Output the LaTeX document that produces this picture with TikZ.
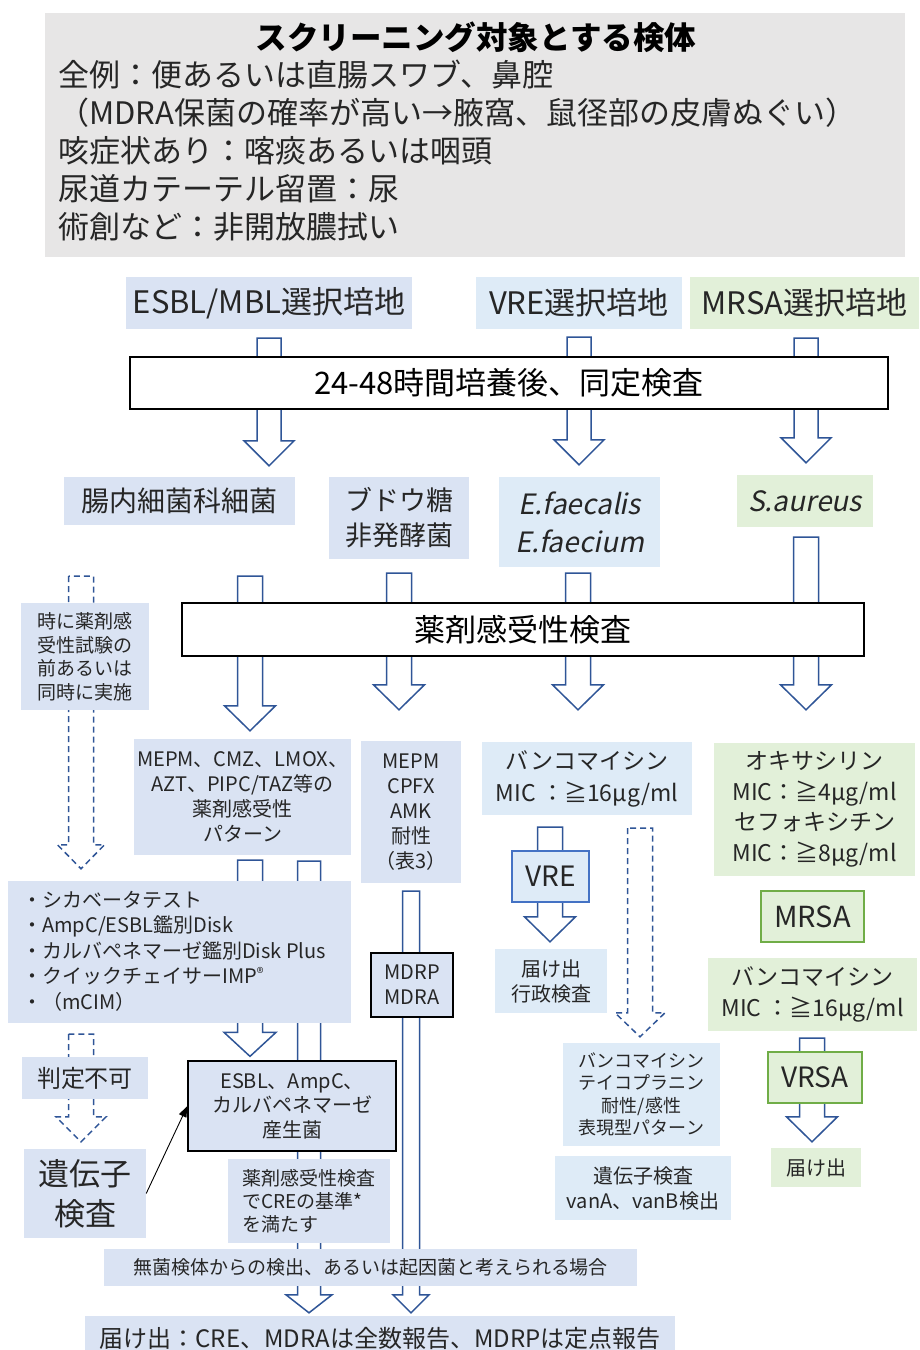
\documentclass[tikz,border=0pt]{standalone}
\usepackage{fontspec}
\setmainfont{Noto Sans CJK JP}[AutoFakeSlant=0.2]
\usepackage{tikz}
\usetikzlibrary{arrows.meta,calc,backgrounds}
\definecolor{scrgrey}{RGB}{231,230,230}
\definecolor{scrlav}{RGB}{218,227,243}
\definecolor{scrblue}{RGB}{222,235,247}
\definecolor{scrgreen}{RGB}{226,240,217}
\definecolor{scrarrow}{RGB}{47,85,151}
\definecolor{scrvre}{RGB}{68,114,196}
\definecolor{scrgreenline}{RGB}{112,173,71}

\newcommand{\scrfont}[2]{\fontsize{#1}{#2}\selectfont}

\tikzset{
  shaftw/.store in=\blkshaft, headw/.store in=\blkhead, headl/.store in=\blklen,
  shaftw=12.5pt, headw=25.5pt, headl=25pt,
}
% block arrow: x and top from #2, tip from #3
\newcommand{\blkarrow}[3][]{%
  \draw[blkarr,#1] let \p1=(#2), \p2=(#3) in
    (\x1-\blkshaft,\y1) -- (\x1-\blkshaft,\y2+\blklen) -- (\x1-\blkhead,\y2+\blklen)
    -- (\x1,\y2) -- (\x1+\blkhead,\y2+\blklen) -- (\x1+\blkshaft,\y2+\blklen)
    -- (\x1+\blkshaft,\y1) -- cycle;}

\begin{document}
\begin{tikzpicture}[x=1pt, y=-1pt,
    box/.style={rectangle, inner sep=0pt, align=center, text=black!85},
    greybox/.style={box, fill=scrgrey},
    lavbox/.style={box, fill=scrlav},
    bluebox/.style={box, fill=scrblue},
    greenbox/.style={box, fill=scrgreen},
    stepbox/.style={box, fill=white, draw=black, line width=1.8pt, text=black},
    keybox/.style={box, fill=scrlav, draw=black, line width=1.3pt},
    blkarr/.style={draw=scrarrow, fill=white, line width=1.5pt, line join=miter},
    dasharr/.style={fill=none, dash pattern=on 6pt off 4pt},
  ]
  \useasboundingbox (0,0) rectangle (919,1350);

  % Specimens
  \node[greybox, minimum width=860, minimum height=244] (spec) at (475,135) {};
  \node[box, font=\scrfont{31.5}{38}\bfseries, text=black] (spectitle) at (476,37)
    {スクリーニング対象とする検体};
  \node[box, anchor=west, align=left, font=\scrfont{31}{38}] (speclist) at (58,151)
    {全例：便あるいは直腸スワブ、鼻腔\\（MDRA保菌の確率が高い→腋窩、鼠径部の皮膚ぬぐい）\\
     咳症状あり：喀痰あるいは咽頭\\尿道カテーテル留置：尿\\術創など：非開放膿拭い};

  % Selective media
  \node[lavbox, minimum width=286, minimum height=52, font=\scrfont{31}{38}] (esblmed) at (269,303) {ESBL/MBL選択培地};
  \node[bluebox, minimum width=206, minimum height=52, font=\scrfont{31}{38}] (vremed) at (579,303) {VRE選択培地};
  \node[greenbox, minimum width=229, minimum height=52, font=\scrfont{31}{38}] (mrsamed) at (804.5,303) {MRSA選択培地};
  \node[stepbox, minimum width=758, minimum height=52, font=\scrfont{31}{38}] (culture) at (509,383) {24-48時間培養後、同定検査};

  % Identification
  \node[lavbox, minimum width=231, minimum height=48, font=\scrfont{28}{35}] (entero) at (179.5,501) {腸内細菌科細菌};
  \node[lavbox, minimum width=140, minimum height=82, font=\scrfont{27}{35}] (nonferm) at (399,518) {ブドウ糖\\非発酵菌};
  \node[bluebox, minimum width=161, minimum height=90, font=\scrfont{28}{38}\itshape] (efae) at (579.5,522) {E.faecalis\\E.faecium};
  \node[greenbox, minimum width=136, minimum height=52, font=\scrfont{28}{35}\itshape] (saur) at (805,501) {S.aureus};
  \node[stepbox, minimum width=682, minimum height=53, font=\scrfont{31}{38}] (ast) at (523,629.5) {薬剤感受性検査};
  \node[lavbox, minimum width=128, minimum height=107, font=\scrfont{19}{23.5}] (timing) at (85,656.5)
    {時に薬剤感\\受性試験の\\前あるいは\\同時に実施};

  % Susceptibility results
  \node[lavbox, minimum width=217, minimum height=116, font=\scrfont{20}{25}] (pattern) at (242.5,797)
    {MEPM、CMZ、LMOX、\\AZT、PIPC/TAZ等の\\薬剤感受性\\パターン};
  \node[lavbox, minimum width=100, minimum height=142, font=\scrfont{20}{25}] (mepm) at (411,812)
    {MEPM\\CPFX\\AMK\\耐性\\（表3）};
  \node[bluebox, minimum width=210, minimum height=73, font=\scrfont{23}{32}] (vanvre) at (587,778.5)
    {バンコマイシン\\MIC ：≧16µg/ml};
  \node[greenbox, minimum width=201, minimum height=133, font=\scrfont{23}{30.5}] (oxa) at (814.5,809.5)
    {オキサシリン\\MIC：≧4µg/ml\\セフォキシチン\\MIC：≧8µg/ml};

  % Confirmation
  \node[lavbox, minimum width=343, minimum height=142] (methods) at (179.5,952) {};
  \node[box, anchor=west, align=left, font=\scrfont{20}{25.5}] (methodlist) at (22,951)
    {・シカベータテスト\\・AmpC/ESBL鑑別Disk\\・カルバペネマーゼ鑑別Disk Plus\\
     ・クイックチェイサーIMP\raisebox{0.45ex}{\scrfont{14}{14}®}\\・（mCIM）};
  \node[keybox, minimum width=82, minimum height=64, font=\scrfont{20}{25}] (mdrp) at (412,985) {MDRP\\MDRA};
  \node[bluebox, draw=scrvre, line width=1.3pt, minimum width=77, minimum height=51, font=\scrfont{28}{30}] (vre) at (550.5,876.5) {VRE};
  \node[greenbox, draw=scrgreenline, line width=1.3pt, minimum width=103, minimum height=51, font=\scrfont{29}{30}] (mrsa) at (812.5,916.5) {MRSA};
  \node[bluebox, minimum width=112, minimum height=64, font=\scrfont{20}{25}] (notify1) at (551,981) {届け出\\行政検査};
  \node[greenbox, minimum width=209, minimum height=73, font=\scrfont{23}{31}] (vanmrsa) at (812.5,994.5)
    {バンコマイシン\\MIC ：≧16µg/ml};
  \node[keybox, minimum width=208, minimum height=90, font=\scrfont{20}{24.5}] (producer) at (292,1106)
    {ESBL、AmpC、\\カルバペネマーゼ\\産生菌};
  \node[lavbox, minimum width=126, minimum height=42, font=\scrfont{24}{30}] (undecided) at (85,1078) {判定不可};
  \node[bluebox, minimum width=157, minimum height=103, font=\scrfont{18}{22.5}] (phenotype) at (641.5,1094.5)
    {バンコマイシン\\テイコプラニン\\耐性/感性\\表現型パターン};
  \node[greenbox, draw=scrgreenline, line width=1.3pt, minimum width=94, minimum height=51, font=\scrfont{28}{30}] (vrsa) at (815,1077.5) {VRSA};
  \node[greenbox, minimum width=90, minimum height=39, font=\scrfont{20}{25}] (notify2) at (816,1167.5) {届け出};
  \node[lavbox, minimum width=122, minimum height=89, font=\scrfont{31}{40}] (gene) at (85,1193.5) {遺伝子\\検査};
  \node[bluebox, minimum width=176, minimum height=64, font=\scrfont{20}{25}] (genevan) at (643,1188)
    {遺伝子検査\\vanA、vanB検出};
  \node[lavbox, text width=134, inner xsep=14pt, minimum height=84, align=left, font=\scrfont{19}{23}] (crit) at (309,1201)
    {薬剤感受性検査\\でCREの基準*\\を満たす};
  \node[lavbox, minimum width=533, minimum height=37, font=\scrfont{19}{23}] (sterile) at (370.5,1267.5)
    {無菌検体からの検出、あるいは起因菌と考えられる場合};
  \node[lavbox, minimum width=590, minimum height=44, font=\scrfont{24}{28}] (report) at (380,1338)
    {届け出：CRE、MDRAは全数報告、MDRPは定点報告};

  \draw[-{Triangle[length=11pt,width=8pt]}, line width=0.9pt] (gene.east) -- (producer.west);

  % Block arrows behind the boxes
  \begin{scope}[on background layer]
    \blkarrow[shaftw=12pt, headw=25pt]{$(269,0 |- esblmed.south)+(0,9)$}{$(entero.north)+(0,-11)$}
    \blkarrow[shaftw=12pt, headw=25pt]{$(vremed.south)+(0,8)$}{$(efae.north)+(0,-12)$}
    \blkarrow[shaftw=12pt, headw=25pt]{$(806,0 |- mrsamed.south)+(0,9)$}{$(saur.north)+(0,-12)$}

    \blkarrow{$(250,0 |- entero.south)+(0,51)$}{$(pattern.north)+(0,-8)$}
    \blkarrow{$(nonferm.south)+(0,14)$}{$(mepm.north)+(0,-31)$}
    \blkarrow{$(578,0 |- efae.south)+(0,6)$}{$(vanvre.north)+(0,-32)$}
    \blkarrow{$(806,0 |- saur.south)+(0,10)$}{$(oxa.north)+(0,-33)$}
    \blkarrow[dasharr, headw=23.5pt, headl=24pt]{$(81,0 |- entero.south)+(0,51)$}{$(methods.north)+(0,-12)$}

    \blkarrow[headw=26pt, headl=24pt]{$(250,0 |- pattern.south)+(0,5)$}{$(producer.north)+(0,-4)$}
    \blkarrow[shaftw=11.5pt, headw=23pt, headl=18pt]{$(309,0 |- pattern.south)+(0,6)$}{$(report.north)+(0,-3)$}
    \blkarrow[shaftw=8.5pt, headw=18pt, headl=18pt]{$(411,0 |- mepm.south)+(0,8)$}{$(report.north)+(0,-3)$}
    \blkarrow{$(550,0 |- vanvre.south)+(0,12)$}{$(notify1.north)+(0,-7)$}
    \blkarrow[dasharr, headw=25pt, headl=24pt]{$(640,0 |- vanvre.south)+(0,13)$}{$(phenotype.north)+(0,-6)$}
    \blkarrow[dasharr, headw=25pt]{$(81,0 |- methods.south)+(0,11)$}{$(gene.north)+(0,-7)$}
    \blkarrow{$(812,0 |- vanmrsa.south)+(0,7)$}{$(notify2.north)+(0,-6)$}
  \end{scope}
\end{tikzpicture}
\end{document}
